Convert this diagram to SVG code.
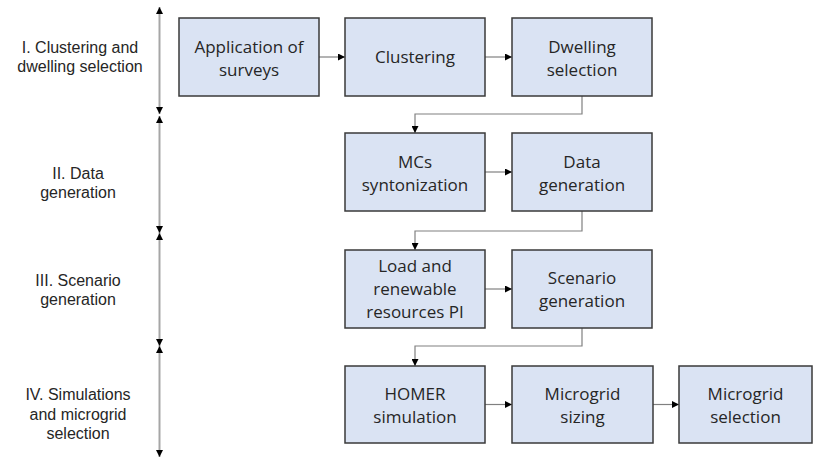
<svg xmlns="http://www.w3.org/2000/svg" width="814" height="460" viewBox="0 0 814 460">
<style>
.box{fill:#dae3f3;stroke:#3a3a3a;stroke-width:1.5}
.bt{font-family:"Open Sans","Noto Sans",sans-serif;font-size:17px;fill:#262626;text-anchor:middle}
.lt{font-family:"Liberation Sans",Arial,sans-serif;font-size:16px;fill:#262626;text-anchor:middle}
.con{fill:none;stroke:#808080;stroke-width:1.2}
.axis{fill:none;stroke:#a6a6a6;stroke-width:2}
</style>
<defs>
<marker id="ah" viewBox="0 0 10 10" refX="10" refY="5" markerWidth="7" markerHeight="7" markerUnits="userSpaceOnUse" orient="auto-start-reverse"><path d="M0,0 L10,5 L0,10 z" fill="#000"/></marker>
<marker id="ax" viewBox="0 0 10 10" refX="10" refY="5" markerWidth="7" markerHeight="7" markerUnits="userSpaceOnUse" orient="auto-start-reverse"><path d="M0,0 L10,5 L0,10 z" fill="#000"/></marker>
</defs>
<g id="phase-axis">
<line class="axis" x1="159.5" y1="7" x2="159.5" y2="114" marker-start="url(#ax)" marker-end="url(#ax)"/>
<line class="axis" x1="159.5" y1="116" x2="159.5" y2="233" marker-start="url(#ax)" marker-end="url(#ax)"/>
<line class="axis" x1="159.5" y1="233" x2="159.5" y2="346" marker-start="url(#ax)" marker-end="url(#ax)"/>
<line class="axis" x1="159.5" y1="346" x2="159.5" y2="457" marker-start="url(#ax)" marker-end="url(#ax)"/>
</g>
<g id="phase-labels">
<text class="lt" x="80" y="53">I. Clustering and</text>
<text class="lt" x="80" y="72">dwelling selection</text>
<text class="lt" x="78" y="179">II. Data</text>
<text class="lt" x="78" y="198">generation</text>
<text class="lt" x="78" y="286">III. Scenario</text>
<text class="lt" x="78" y="305">generation</text>
<text class="lt" x="78" y="400">IV. Simulations</text>
<text class="lt" x="78" y="419.5">and microgrid</text>
<text class="lt" x="78" y="439">selection</text>
</g>
<g id="connectors">
<line class="con" x1="319" y1="57" x2="345" y2="57" marker-end="url(#ah)"/>
<line class="con" x1="485" y1="57" x2="512" y2="57" marker-end="url(#ah)"/>
<polyline class="con" points="582,96 582,114 415,114 415,133" marker-end="url(#ah)"/>
<line class="con" x1="485" y1="172" x2="512" y2="172" marker-end="url(#ah)"/>
<polyline class="con" points="582,211 582,231 415,231 415,250" marker-end="url(#ah)"/>
<line class="con" x1="485" y1="289" x2="512" y2="289" marker-end="url(#ah)"/>
<polyline class="con" points="582,328 582,346 415,346 415,366" marker-end="url(#ah)"/>
<line class="con" x1="485" y1="404.5" x2="512" y2="404.5" marker-end="url(#ah)"/>
<line class="con" x1="653" y1="404.5" x2="679" y2="404.5" marker-end="url(#ah)"/>
</g>
<g id="application-of-surveys">
<rect class="box" x="179" y="18" width="140" height="78"/>
<text class="bt" x="249" y="53">Application of</text>
<text class="bt" x="249" y="76">surveys</text>
</g>
<g id="clustering">
<rect class="box" x="345" y="18" width="140" height="78"/>
<text class="bt" x="415" y="63">Clustering</text>
</g>
<g id="dwelling-selection">
<rect class="box" x="512" y="18" width="140" height="78"/>
<text class="bt" x="582" y="53">Dwelling</text>
<text class="bt" x="582" y="76">selection</text>
</g>
<g id="mcs-syntonization">
<rect class="box" x="345" y="133" width="140" height="78"/>
<text class="bt" x="415" y="168">MCs</text>
<text class="bt" x="415" y="191">syntonization</text>
</g>
<g id="data-generation">
<rect class="box" x="512" y="133" width="140" height="78"/>
<text class="bt" x="582" y="168">Data</text>
<text class="bt" x="582" y="191">generation</text>
</g>
<g id="load-renewable-pi">
<rect class="box" x="345" y="250" width="140" height="78"/>
<text class="bt" x="415" y="272">Load and</text>
<text class="bt" x="415" y="295">renewable</text>
<text class="bt" x="415" y="318">resources PI</text>
</g>
<g id="scenario-generation">
<rect class="box" x="512" y="250" width="140" height="78"/>
<text class="bt" x="582" y="284">Scenario</text>
<text class="bt" x="582" y="307">generation</text>
</g>
<g id="homer-simulation">
<rect class="box" x="345" y="366" width="140" height="77"/>
<text class="bt" x="415" y="400">HOMER</text>
<text class="bt" x="415" y="423">simulation</text>
</g>
<g id="microgrid-sizing">
<rect class="box" x="512" y="366" width="141" height="77"/>
<text class="bt" x="582.5" y="400">Microgrid</text>
<text class="bt" x="582.5" y="423">sizing</text>
</g>
<g id="microgrid-selection">
<rect class="box" x="679" y="366" width="133" height="77"/>
<text class="bt" x="745.5" y="400">Microgrid</text>
<text class="bt" x="745.5" y="423">selection</text>
</g>
</svg>
